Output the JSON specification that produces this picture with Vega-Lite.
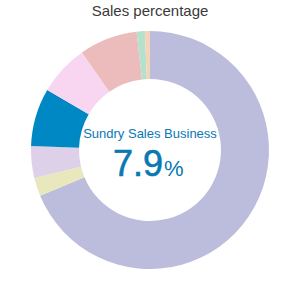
{
  "$schema": "https://vega.github.io/schema/vega-lite/v6.json",
  "autosize": {"type": "fit", "contains": "padding"},
  "width": 300,
  "height": 300,
  "padding": 0,
  "background": "white",
  "title": {
    "text": "Sales percentage",
    "font": "Liberation Sans",
    "fontSize": 15,
    "fontWeight": "normal",
    "color": "#3a3a3a",
    "anchor": "middle",
    "offset": -19
  },
  "config": {"view": {"stroke": null}},
  "data": {
    "values": [
      {"segment": "Main Business", "share": 68.8, "ord": 1},
      {"segment": "Segment B", "share": 2.5, "ord": 2},
      {"segment": "Segment C", "share": 4.3, "ord": 3},
      {"segment": "Sundry Sales Business", "share": 7.9, "ord": 4},
      {"segment": "Segment E", "share": 6.9, "ord": 5},
      {"segment": "Segment F", "share": 7.9, "ord": 6},
      {"segment": "Segment G", "share": 1.1, "ord": 7},
      {"segment": "Segment H", "share": 0.7, "ord": 8}
    ]
  },
  "layer": [
    {
      "mark": {"type": "arc", "innerRadius": 71, "outerRadius": 119},
      "encoding": {
        "theta": {"field": "share", "type": "quantitative", "stack": true},
        "order": {"field": "ord", "type": "quantitative"},
        "color": {
          "field": "segment",
          "type": "nominal",
          "legend": null,
          "scale": {
            "domain": ["Main Business", "Segment B", "Segment C", "Sundry Sales Business", "Segment E", "Segment F", "Segment G", "Segment H"],
            "range": ["#bcbcdc", "#e8e8bc", "#ddd0e8", "#0088c4", "#f8d6f2", "#ecbcbc", "#b4e0cc", "#f4d4b8"]
          }
        }
      }
    },
    {
      "transform": [{"filter": "datum.segment === 'Sundry Sales Business'"}],
      "mark": {"type": "text", "font": "Liberation Sans", "fontSize": 13, "color": "#0a78b2", "baseline": "alphabetic", "dy": -12},
      "encoding": {"text": {"field": "segment", "type": "nominal"}}
    },
    {
      "transform": [{"filter": "datum.segment === 'Sundry Sales Business'"}],
      "mark": {"type": "text", "font": "Liberation Sans", "fontSize": 36, "color": "#0a78b2", "align": "right", "baseline": "alphabetic", "dx": 13, "dy": 26, "stroke": "#0a78b2", "strokeWidth": 0.6},
      "encoding": {"text": {"field": "share", "type": "quantitative", "format": ".1f"}}
    },
    {
      "transform": [{"filter": "datum.segment === 'Sundry Sales Business'"}],
      "mark": {"type": "text", "font": "Liberation Sans", "fontSize": 22, "color": "#0a78b2", "align": "left", "baseline": "alphabetic", "dx": 14, "dy": 26, "text": "%"},
      "encoding": {}
    }
  ]
}
